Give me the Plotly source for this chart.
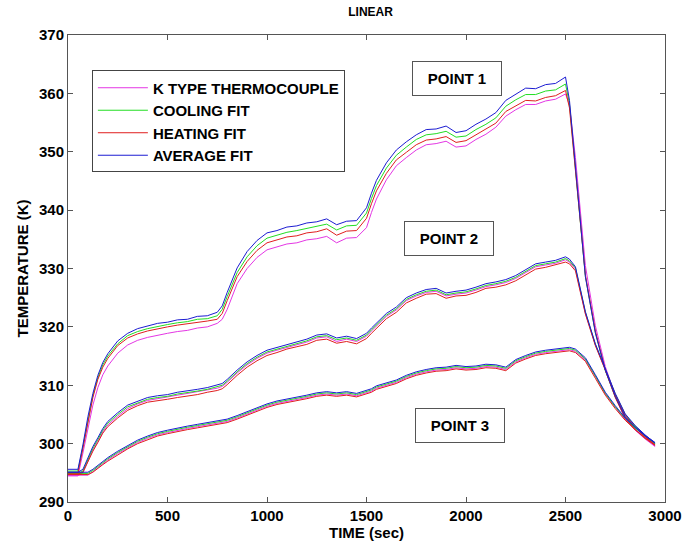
import plotly.graph_objects as go

# ---------------- data ----------------
time_s = [0, 50, 75, 100, 125, 150, 175, 200, 250, 300, 350, 400, 450, 500, 550, 600, 650, 700, 750,
          775, 800, 850, 900, 950, 1000, 1050, 1100, 1150, 1200, 1250, 1300, 1350, 1400, 1450, 1500,
          1525, 1550, 1600, 1650, 1700, 1750, 1800, 1850, 1900, 1950, 2000, 2050, 2100, 2150, 2200,
          2250, 2300, 2350, 2400, 2450, 2500, 2520, 2550, 2600, 2650, 2700, 2750, 2800, 2850, 2900, 2950]

# POINT 1
p1_k = [294.5, 294.5, 298.4, 302.8, 306.6, 309.6, 311.8, 313.3, 315.5, 316.9, 317.7, 318.2, 318.6, 318.9,
        319.2, 319.4, 319.8, 320.0, 320.6, 321.3, 323.0, 327.4, 330.0, 331.9, 333.2, 333.7, 334.2, 334.4,
        334.9, 335.1, 335.5, 334.4, 335.2, 335.3, 337.0, 339.6, 341.9, 345.2, 347.6, 349.0, 350.3, 351.2,
        351.4, 351.8, 350.8, 351.0, 352.1, 353.0, 354.2, 356.1, 357.2, 358.1, 358.1, 358.7, 359.0, 359.9,
        358.0, 349.0, 330.5, 320.2, 313.2, 308.2, 304.3, 302.3, 300.8, 299.5]
p1_cool = [295.3, 295.3, 299.5, 304.2, 308.2, 311.3, 313.5, 315.0, 317.1, 318.5, 319.2, 319.7, 320.1, 320.4,
           320.7, 320.9, 321.3, 321.4, 321.9, 323.0, 325.2, 329.3, 332.0, 333.9, 335.2, 335.7, 336.2, 336.5,
           336.9, 337.2, 337.6, 336.6, 337.3, 337.4, 339.5, 342.0, 344.2, 347.2, 349.4, 350.8, 352.1, 352.9,
           353.1, 353.5, 352.5, 352.7, 353.8, 354.7, 355.8, 357.8, 358.9, 359.8, 359.8, 360.4, 360.6, 361.6,
           358.2, 347.0, 328.6, 319.0, 312.5, 308.0, 304.5, 302.7, 301.3, 300.1]
p1_heat = [295.0, 295.0, 299.2, 303.9, 307.9, 311.0, 313.1, 314.6, 316.8, 318.1, 318.8, 319.3, 319.7, 320.0,
           320.3, 320.5, 320.8, 321.0, 321.3, 322.3, 324.5, 328.6, 331.2, 333.1, 334.4, 334.9, 335.4, 335.6,
           336.1, 336.3, 336.8, 335.7, 336.4, 336.5, 338.6, 341.1, 343.3, 346.3, 348.6, 349.9, 351.2, 352.0,
           352.2, 352.6, 351.6, 351.9, 352.9, 353.8, 354.9, 356.9, 357.9, 358.8, 358.7, 359.3, 359.6, 360.5,
           357.5, 346.8, 328.9, 319.3, 312.6, 307.9, 304.3, 302.4, 301.0, 299.8]
p1_avg = [295.6, 295.6, 299.8, 304.6, 308.6, 311.7, 313.9, 315.4, 317.6, 318.9, 319.7, 320.1, 320.6, 320.8,
          321.2, 321.3, 321.8, 321.9, 322.5, 323.6, 325.9, 330.1, 332.9, 334.8, 336.1, 336.5, 337.1, 337.3,
          337.8, 338.0, 338.5, 337.5, 338.1, 338.2, 340.4, 342.9, 345.1, 348.1, 350.3, 351.7, 352.9, 353.8,
          353.9, 354.4, 353.3, 353.6, 354.7, 355.6, 356.7, 358.8, 359.9, 360.9, 360.8, 361.5, 361.7, 362.8,
          358.8, 347.3, 328.6, 319.0, 312.6, 308.1, 304.6, 302.8, 301.4, 300.2]

# POINT 2
p2_k = [294.5, 294.5, 295.0, 297.0, 298.9, 300.4, 302.0, 303.2, 304.7, 306.0, 306.8, 307.4, 307.7, 307.9,
        308.3, 308.5, 308.8, 309.1, 309.5, 309.8, 310.5, 312.1, 313.5, 314.6, 315.5, 316.0, 316.5, 317.0,
        317.4, 318.1, 318.3, 317.5, 317.9, 317.5, 318.4, 319.3, 320.1, 321.8, 322.9, 324.5, 325.3, 325.9,
        326.1, 325.3, 325.6, 325.8, 326.3, 326.9, 327.2, 327.6, 328.3, 329.3, 330.3, 330.6, 330.9, 331.5,
        331.1, 329.9, 322.3, 316.9, 312.7, 308.4, 304.9, 302.9, 301.3, 299.8]
p2_cool = [294.9, 294.9, 295.3, 297.3, 299.2, 300.7, 302.3, 303.5, 305.0, 306.3, 307.0, 307.6, 307.9, 308.1,
           308.5, 308.7, 309.0, 309.3, 309.7, 310.0, 310.7, 312.3, 313.7, 314.8, 315.7, 316.2, 316.7, 317.2,
           317.6, 318.3, 318.5, 317.8, 318.1, 317.7, 318.6, 319.5, 320.3, 322.0, 323.1, 324.7, 325.5, 326.1,
           326.3, 325.5, 325.8, 326.0, 326.5, 327.1, 327.4, 327.8, 328.5, 329.5, 330.5, 330.8, 331.1, 331.7,
           331.3, 330.1, 322.5, 317.0, 312.8, 308.5, 305.0, 303.0, 301.4, 300.0]
p2_heat = [294.8, 294.8, 295.1, 296.9, 298.7, 300.2, 301.8, 302.9, 304.4, 305.7, 306.5, 307.1, 307.3, 307.6,
           307.9, 308.1, 308.4, 308.8, 309.1, 309.4, 310.1, 311.7, 313.1, 314.2, 315.1, 315.6, 316.2, 316.6,
           317.0, 317.7, 317.9, 317.2, 317.5, 317.1, 318.0, 318.9, 319.7, 321.4, 322.5, 324.1, 324.9, 325.6,
           325.7, 324.9, 325.3, 325.4, 325.9, 326.6, 326.8, 327.2, 327.9, 328.9, 329.9, 330.2, 330.6, 331.1,
           330.8, 329.6, 322.2, 316.8, 312.6, 308.3, 304.8, 302.8, 301.2, 299.8]
p2_avg = [295.1, 295.1, 295.6, 297.6, 299.5, 301.0, 302.6, 303.8, 305.3, 306.6, 307.3, 307.9, 308.2, 308.4,
          308.8, 309.0, 309.3, 309.6, 310.0, 310.3, 311.0, 312.6, 314.0, 315.1, 316.0, 316.5, 317.0, 317.5,
          317.9, 318.6, 318.8, 318.1, 318.4, 318.0, 318.9, 319.8, 320.6, 322.3, 323.4, 325.0, 325.8, 326.4,
          326.6, 325.8, 326.1, 326.3, 326.8, 327.4, 327.7, 328.1, 328.8, 329.8, 330.8, 331.1, 331.4, 332.0,
          331.6, 330.3, 322.6, 317.1, 312.9, 308.6, 305.1, 303.1, 301.5, 300.1]

# POINT 3
p3_k = [294.6, 294.6, 294.6, 294.6, 295.2, 295.9, 296.6, 297.2, 298.3, 299.3, 300.2, 300.9, 301.5, 301.9,
        302.3, 302.6, 302.9, 303.2, 303.4, 303.6, 303.8, 304.4, 305.1, 305.8, 306.4, 306.9, 307.2, 307.6,
        307.9, 308.3, 308.5, 308.3, 308.5, 308.2, 308.7, 309.0, 309.5, 310.0, 310.5, 311.3, 311.9, 312.3,
        312.6, 312.7, 313.0, 312.8, 312.9, 313.2, 313.1, 312.7, 314.0, 314.7, 315.3, 315.6, 315.8, 315.9,
        316.1, 315.8, 314.3, 311.5, 308.5, 306.2, 304.1, 302.5, 301.0, 299.6]
p3_cool = [294.9, 294.9, 294.9, 294.9, 295.4, 296.1, 296.8, 297.4, 298.5, 299.5, 300.4, 301.1, 301.7, 302.1,
           302.5, 302.8, 303.1, 303.4, 303.6, 303.8, 304.0, 304.6, 305.3, 306.0, 306.6, 307.1, 307.4, 307.8,
           308.1, 308.5, 308.7, 308.5, 308.7, 308.4, 308.9, 309.2, 309.7, 310.2, 310.7, 311.5, 312.1, 312.5,
           312.8, 312.9, 313.2, 313.0, 313.1, 313.4, 313.3, 312.9, 314.2, 314.9, 315.5, 315.8, 316.0, 316.1,
           316.3, 316.0, 314.5, 311.6, 308.6, 306.3, 304.3, 302.7, 301.2, 300.0]
p3_heat = [294.7, 294.7, 294.7, 294.7, 295.1, 295.8, 296.4, 297.0, 298.1, 299.1, 300.0, 300.7, 301.3, 301.7,
           302.1, 302.4, 302.7, 303.0, 303.2, 303.4, 303.6, 304.2, 304.9, 305.6, 306.2, 306.7, 307.0, 307.4,
           307.7, 308.1, 308.3, 308.1, 308.3, 308.0, 308.5, 308.8, 309.3, 309.8, 310.3, 311.1, 311.7, 312.1,
           312.4, 312.5, 312.8, 312.6, 312.7, 313.0, 312.9, 312.5, 313.8, 314.5, 315.1, 315.4, 315.6, 315.7,
           315.9, 315.6, 314.1, 311.2, 308.3, 306.0, 304.0, 302.4, 300.9, 299.7]
p3_avg = [295.1, 295.1, 295.1, 295.1, 295.6, 296.3, 297.0, 297.6, 298.7, 299.7, 300.6, 301.3, 301.9, 302.3,
          302.7, 303.0, 303.3, 303.6, 303.8, 304.0, 304.2, 304.8, 305.5, 306.2, 306.8, 307.3, 307.6, 308.0,
          308.3, 308.7, 308.9, 308.7, 308.9, 308.6, 309.1, 309.4, 309.9, 310.4, 310.9, 311.7, 312.3, 312.7,
          313.0, 313.1, 313.4, 313.2, 313.3, 313.6, 313.5, 313.1, 314.4, 315.1, 315.7, 316.0, 316.2, 316.3,
          316.5, 316.2, 314.7, 311.8, 308.8, 306.5, 304.4, 302.8, 301.3, 300.1]

series_names = ["K TYPE THERMOCOUPLE", "COOLING FIT", "HEATING FIT", "AVERAGE FIT"]
series_colors = ["#e436e4", "#22dd22", "#e01e1e", "#1c1cd2"]
point_labels = ["POINT 1", "POINT 2", "POINT 3"]
label_x = [1956, 1917, 1969]
label_y = [362.5, 335.1, 303.1]

points = [
    [p1_k, p1_cool, p1_heat, p1_avg],
    [p2_k, p2_cool, p2_heat, p2_avg],
    [p3_k, p3_cool, p3_heat, p3_avg],
]

FONT = "Liberation Sans, Arial, sans-serif"

fig = go.Figure()
for s, (name, color) in enumerate(zip(series_names, series_colors)):
    for p, pdata in enumerate(points):
        fig.add_trace(go.Scatter(
            x=time_s, y=pdata[s], mode="lines", name=name,
            legendgroup=name, showlegend=(p == 0),
            line=dict(color=color, width=1),
        ))

for txt, ax, ay in zip(point_labels, label_x, label_y):
    fig.add_annotation(
        x=ax, y=ay, xref="x", yref="y", text=txt, showarrow=False,
        font=dict(family=FONT, size=15, color="black", weight="bold"),
        bordercolor="#555555", borderwidth=1, borderpad=1,
        width=86, height=31, bgcolor="white",
    )

axis_common = dict(
    showgrid=False, zeroline=False, showline=True, linecolor="#555555", linewidth=1,
    mirror="ticks", ticks="inside", ticklen=5, tickcolor="#555555",
    tickfont=dict(family=FONT, size=15, color="black", weight="bold"),
)

fig.update_layout(
    width=694, height=549,
    margin=dict(l=68, r=20, t=35, b=46),
    paper_bgcolor="white", plot_bgcolor="white",
    title=dict(text="LINEAR", x=0.534, xanchor="center", y=0.978, yanchor="middle",
               font=dict(family=FONT, size=12, color="black", weight="bold")),
    xaxis=dict(range=[0, 3000], tickvals=[0, 500, 1000, 1500, 2000, 2500, 3000],
               title=dict(text="TIME (sec)", font=dict(family=FONT, size=15, color="black", weight="bold"),
                          standoff=2),
               **axis_common),
    yaxis=dict(range=[290, 370], tickvals=[290, 300, 310, 320, 330, 340, 350, 360, 370],
               title=dict(text="TEMPERATURE (K)", font=dict(family=FONT, size=15, color="black", weight="bold"),
                          standoff=6),
               **axis_common),
    legend=dict(x=0.040, y=0.924, xanchor="left", yanchor="top",
                bgcolor="white", bordercolor="#444444", borderwidth=1,
                font=dict(family=FONT, size=15, color="black", weight="bold"),
                itemwidth=50, tracegroupgap=0, traceorder="grouped"),
    showlegend=True,
)

fig.write_html("out.html")
